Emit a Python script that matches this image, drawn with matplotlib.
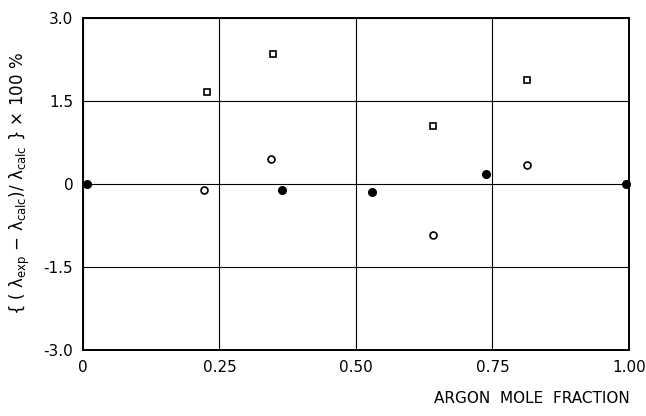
import matplotlib
matplotlib.use("Agg")
from matplotlib import pyplot as plt

# deviations of measured thermal conductivity, in %
x_filled = [0.007, 0.364, 0.529, 0.738, 0.995]
y_filled = [0.0, -0.11, -0.15, 0.18, 0.0]

x_open = [0.222, 0.344, 0.641, 0.813]
y_open = [-0.11, 0.45, -0.92, 0.34]

x_square = [0.227, 0.348, 0.641, 0.813]
y_square = [1.66, 2.35, 1.05, 1.88]

xticks = [0, 0.25, 0.50, 0.75, 1.00]
xtick_labels = ["0", "0.25", "0.50", "0.75", "1.00"]
yticks = [-3.0, -1.5, 0, 1.5, 3.0]
ytick_labels = ["-3.0", "-1.5", "0", "1.5", "3.0"]

fig = plt.figure(figsize=(6.46, 4.16), dpi=100)
ax = fig.add_axes([0.1285, 0.1587, 0.845, 0.798])

ax.grid(True, color="black", linewidth=0.8)
ax.set_axisbelow(True)

ax.plot(x_filled, y_filled, "o", color="black", markersize=5.5, clip_on=False, zorder=3)
ax.plot(x_open, y_open, "o", mfc="white", mec="black", mew=1.2, markersize=5, zorder=3)
ax.plot(x_square, y_square, "s", mfc="white", mec="black", mew=1.2, markersize=5, zorder=3)

ax.set_xlim(0, 1.0)
ax.set_ylim(-3.0, 3.0)
ax.set_xticks(xticks)
ax.set_xticklabels(xtick_labels)
ax.set_yticks(yticks)
ax.set_yticklabels(ytick_labels)
ax.tick_params(length=0, labelsize=11, pad=7)
for s in ax.spines.values():
    s.set_linewidth(1.4)

ax.set_ylabel(r"$\{$ ( λ$_{\rm exp}$ − λ$_{\rm calc}$)/ λ$_{\rm calc}$ $\}$ × 100 %",
              fontsize=12, labelpad=8)
fig.text(0.975, 0.025, "ARGON  MOLE  FRACTION", ha="right", va="bottom", fontsize=11)

plt.savefig("out.png", dpi=100)
